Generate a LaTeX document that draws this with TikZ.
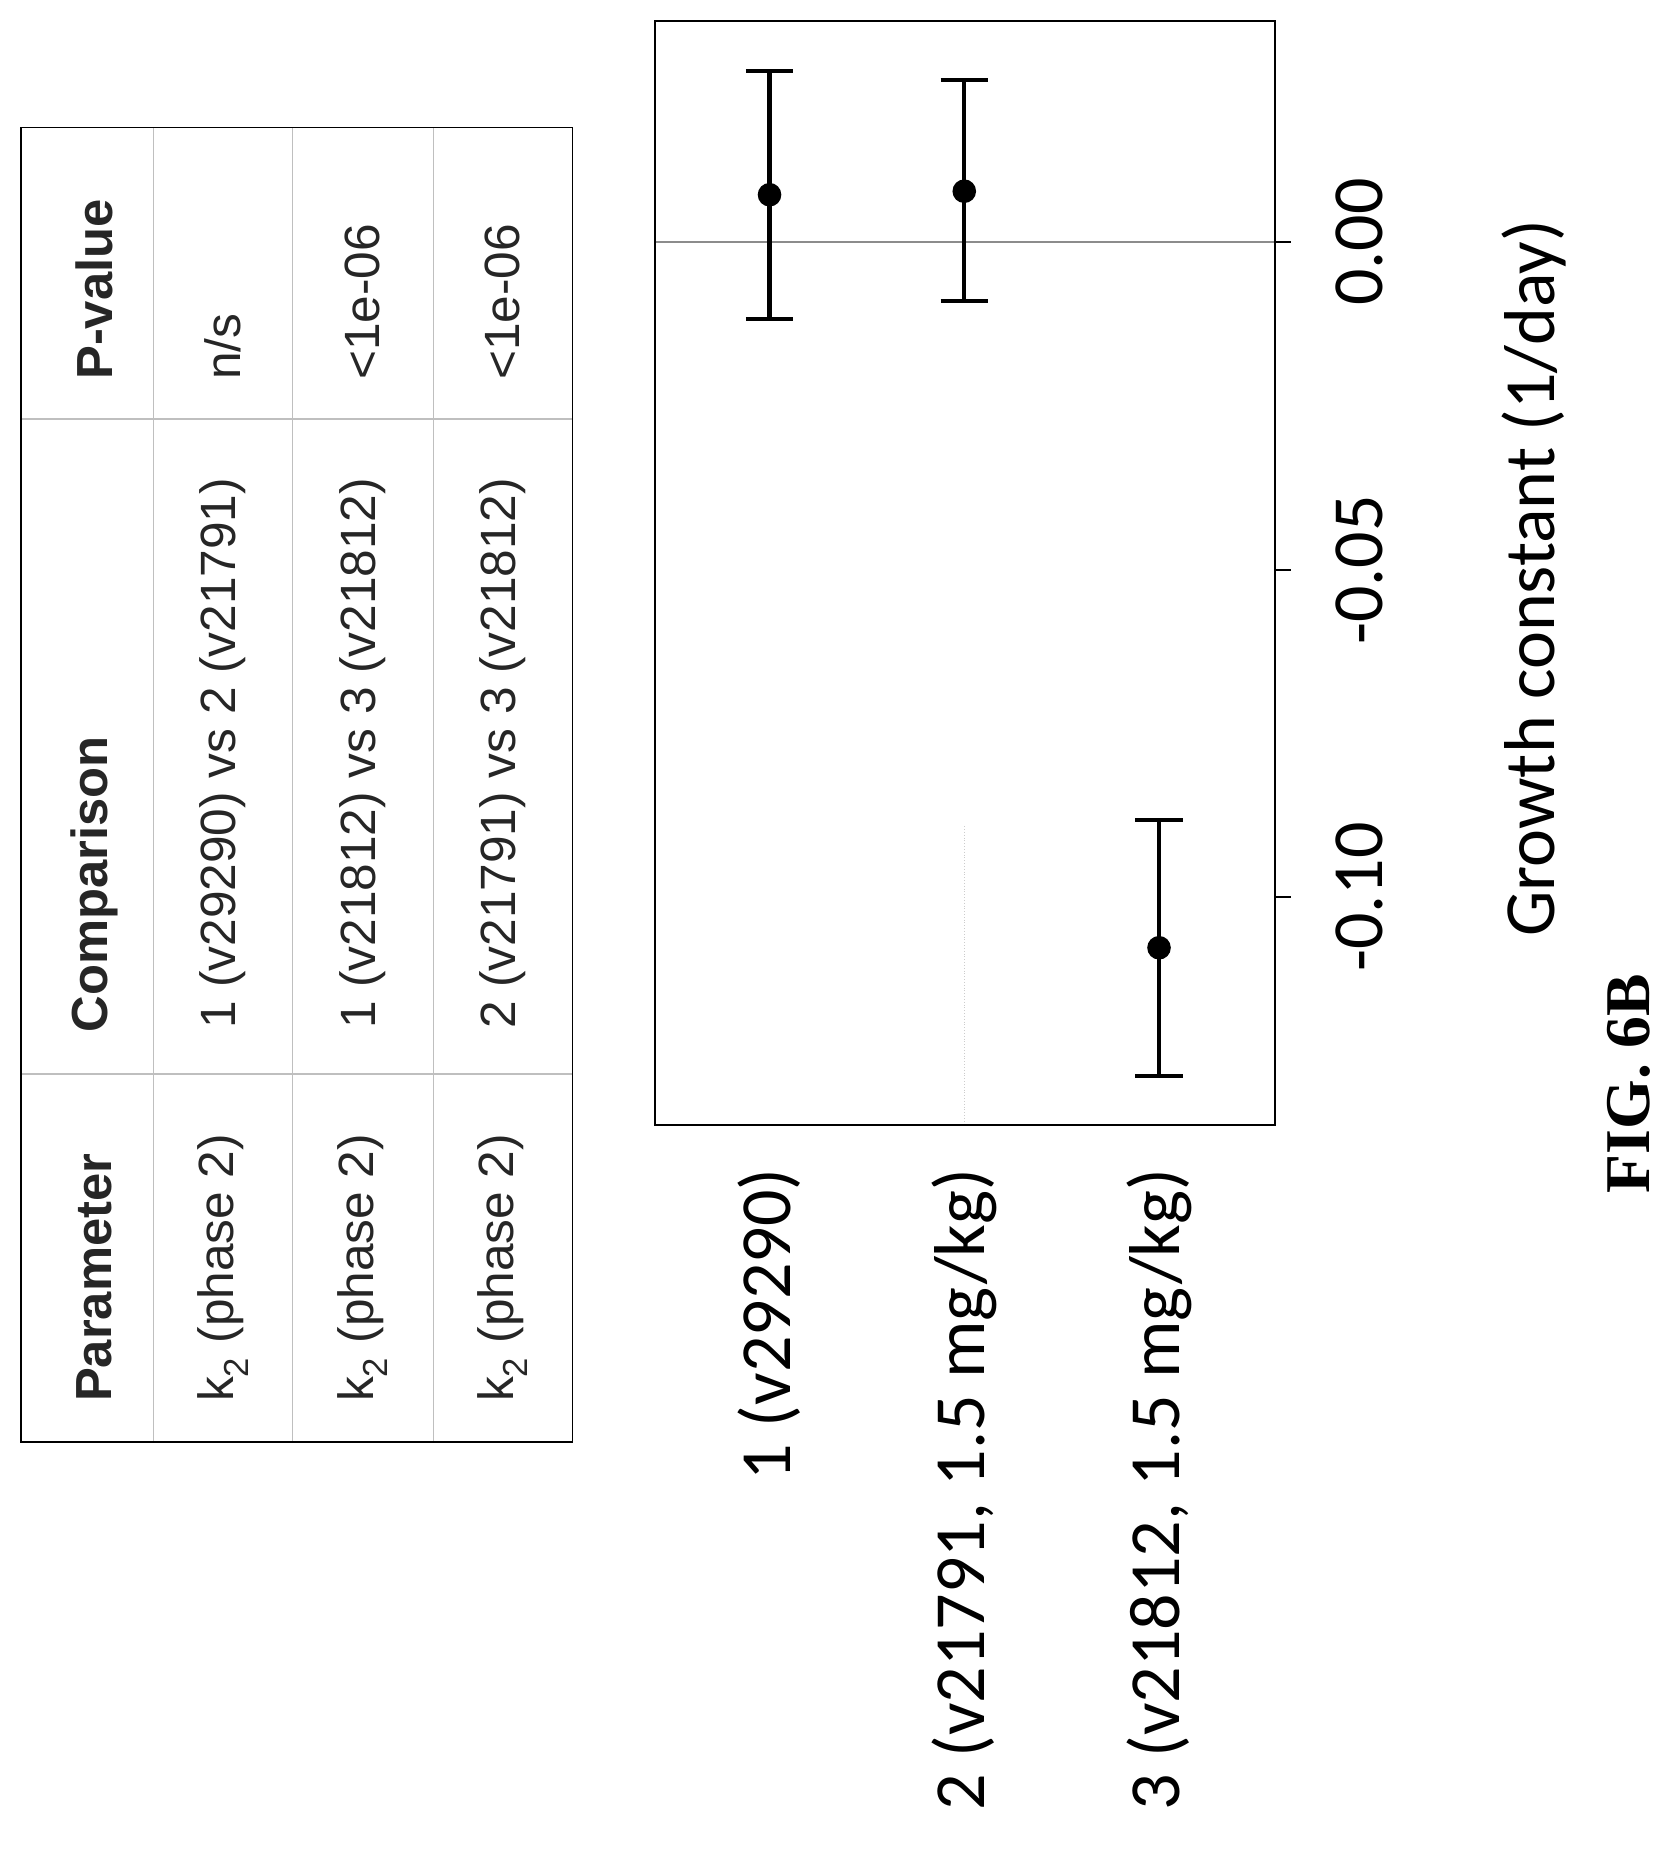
\documentclass[tikz,border=0pt]{standalone}
\usepackage{fontspec}
\setmainfont{Carlito}
\newfontfamily\tabfont{Liberation Sans}
\newfontfamily\figfont{Liberation Serif}
\begin{document}
\begin{tikzpicture}[x=1pt,y=-1pt,
  tab/.style={font=\tabfont\fontsize{42}{46}\selectfont,text=black!85,rotate=90,anchor=west,inner sep=0},
  hd/.style={tab,font=\tabfont\bfseries\fontsize{43}{46}\selectfont},
  lab/.style={font=\fontsize{61}{66}\selectfont,rotate=90,inner sep=0},
  eb/.style={line width=3.5pt},
  grid/.style={black!25,line width=1pt}]
\useasboundingbox (0,0) rectangle (1420,1570);
% table
\draw[grid] (130,108)--(130,1222) (248,108)--(248,1222) (367,108)--(367,1222);
\draw[grid] (18,355)--(485,355) (18,910)--(485,910);
\draw[line width=1.5pt] (18,108) rectangle (485,1222);
\node[hd] (h1) at (80,1188) {Parameter};
\node[hd] (h2) at (80,875) {Comparison};
\node[hd] (h3) at (80,322) {P-value};
\foreach \x/\c/\p [count=\i] in {189/1 (v29290) vs 2 (v21791)/n\slash s,307/1 (v21812) vs 3 (v21812)/<1e-06,426/2 (v21791) vs 3 (v21812)/<1e-06}{
  \node[tab] (p\i) at (\x,1188) {k\textsubscript{2} (phase 2)};
  \node[tab] (c\i) at (\x,872) {\c};
  \node[tab] (v\i) at (\x,322) {\p};
}
% plot
\draw[black!45,line width=1.5pt] (555,205)--(1080,205);
\draw[black!20,dotted] (817,700)--(817,953);
\draw[line width=1.5pt] (555,18) rectangle (1080,953);
\foreach \y/\t in {205/0.00,483/-0.05,760/-0.10}{
  \draw[line width=1.5pt] (1080,\y)--(1094,\y);
  \node[lab] at (1152,\y) {\t};
}
\node[lab] (xt) at (1300,490) {Growth constant (1/day)};
\foreach \x/\p/\a/\b [count=\i] in {652/165/60/270,817/162/68/255,982/803/695/912}{
  \draw[eb] (\x,\a)--(\x,\b) (\x-20,\a)--(\x+20,\a) (\x-20,\b)--(\x+20,\b);
  \fill (\x,\p) circle (10);
}
\node[lab,anchor=east] (g1) at (652,990) {1 (v29290)};
\node[lab,anchor=east] (g2) at (817,990) {2 (v21791, 1.5 mg/kg)};
\node[lab,anchor=east] (g3) at (982,990) {3 (v21812, 1.5 mg/kg)};
\node[font=\figfont\bfseries\fontsize{54}{58}\selectfont,rotate=90] (fig) at (1380,918) {FIG. 6B};
\end{tikzpicture}
\end{document}
